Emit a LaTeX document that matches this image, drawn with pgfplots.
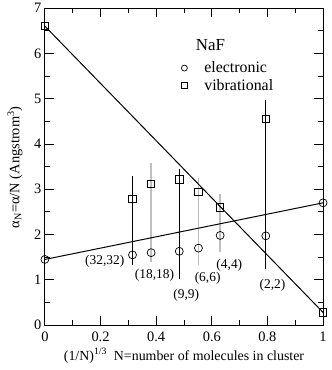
\documentclass[border=0pt]{standalone}
\usepackage{pgfplots}
\pgfplotsset{compat=1.18}
\usepackage{fontspec}
\setmainfont{Liberation Serif}

\begin{document}
\begin{tikzpicture}
\begin{axis}[
    scale only axis,
    width=279bp, height=318bp,
    xmin=0, xmax=1, ymin=0, ymax=7,
    xtick={0,0.2,0.4,0.6,0.8,1},
    xticklabels={0,0.2,0.4,0.6,0.8,1},
    ytick={0,1,2,3,4,5,6,7},
    minor x tick num=1,
    minor y tick num=1,
    tick align=inside,
    major tick length=9bp,
    minor tick length=5bp,
    axis line style={line width=1pt},
    every tick/.style={black, line width=0.8pt},
    tick label style={font=\fontsize{14.5}{16}\selectfont},
    /pgf/number format/assume math mode=true,
    xticklabel style={yshift=-3bp},
    xlabel={(1/N)\textsuperscript{1/3}\ \ N=number of molecules in cluster},
    ylabel={α\textsubscript{N}=α/N (Angstrom\textsuperscript{3})},
    xlabel style={font=\fontsize{14}{16}\selectfont, at={(axis description cs:0.50,-0.110)}, anchor=base},
    ylabel style={font=\fontsize{14.5}{16}\selectfont, at={(axis description cs:-0.1075,0.498)}, anchor=center},
    clip=false,
    legend image code/.code={\draw[mark repeat=2,mark phase=2,#1] plot coordinates {(0bp,0bp) (3bp,0bp) (6bp,0bp)};},
    legend style={draw=none, fill=none, font=\fontsize{16}{17}\selectfont,
        inner sep=0pt, nodes={inner sep=0pt}, column sep=17bp, row sep=5bp,
        at={(0.49,0.783)}, anchor=west,
        legend cell align=left},
]
\path (rel axis cs:-0.16129,-0.14151) rectangle (rel axis cs:1.02867,1.02201);
% error bars
\addplot[black, line width=0.8pt, forget plot] coordinates {(0.315,1.33) (0.315,3.29)};
\addplot[gray!50, line width=1.6pt, forget plot] coordinates {(0.382,1.40) (0.382,3.58)};
\addplot[black, line width=0.8pt, forget plot] coordinates {(0.483,1.01) (0.483,3.44)};
\addplot[gray!50, line width=1.6pt, forget plot] coordinates {(0.552,1.33) (0.552,3.24)};
\addplot[gray!50, line width=1.6pt, forget plot] coordinates {(0.630,1.62) (0.630,2.89)};
\addplot[black, line width=0.8pt, forget plot] coordinates {(0.794,1.25) (0.794,4.96)};
% fits
\addplot[black, line width=1pt, forget plot] coordinates {(0,1.45) (1,2.70)};
\addplot[black, line width=1pt, forget plot] coordinates {(0,6.60) (1,0.28)};
% data
\addplot[only marks, mark=o, mark size=4bp, mark options={line width=0.7pt},
    legend image post style={mark size=3bp}] coordinates {
    (0,1.45) (0.315,1.55) (0.382,1.60) (0.483,1.63) (0.552,1.70)
    (0.630,1.98) (0.794,1.97) (1,2.70)
};
\addlegendentry{electronic}
\addplot[only marks, mark=square, mark size=3.7bp, mark options={line width=0.7pt},
    legend image post style={mark size=2.8bp}] coordinates {
    (0,6.60) (0.315,2.79) (0.382,3.12) (0.483,3.22) (0.552,2.94)
    (0.630,2.60) (0.794,4.56) (1,0.28)
};
\addlegendentry{vibrational}
% labels
\node[font=\fontsize{17}{19}\selectfont, anchor=west] at (axis description cs:0.53,0.882) {NaF};
\begin{scope}[every node/.style={font=\fontsize{13.5}{15}\selectfont}]
\node at (axis cs:0.215,1.40) {(32,32)};
\node at (axis cs:0.394,1.11) {(18,18)};
\node at (axis cs:0.508,0.67) {(9,9)};
\node at (axis cs:0.585,1.04) {(6,6)};
\node at (axis cs:0.663,1.33) {(4,4)};
\node at (axis cs:0.818,0.89) {(2,2)};
\end{scope}
\end{axis}
\end{tikzpicture}
\end{document}
